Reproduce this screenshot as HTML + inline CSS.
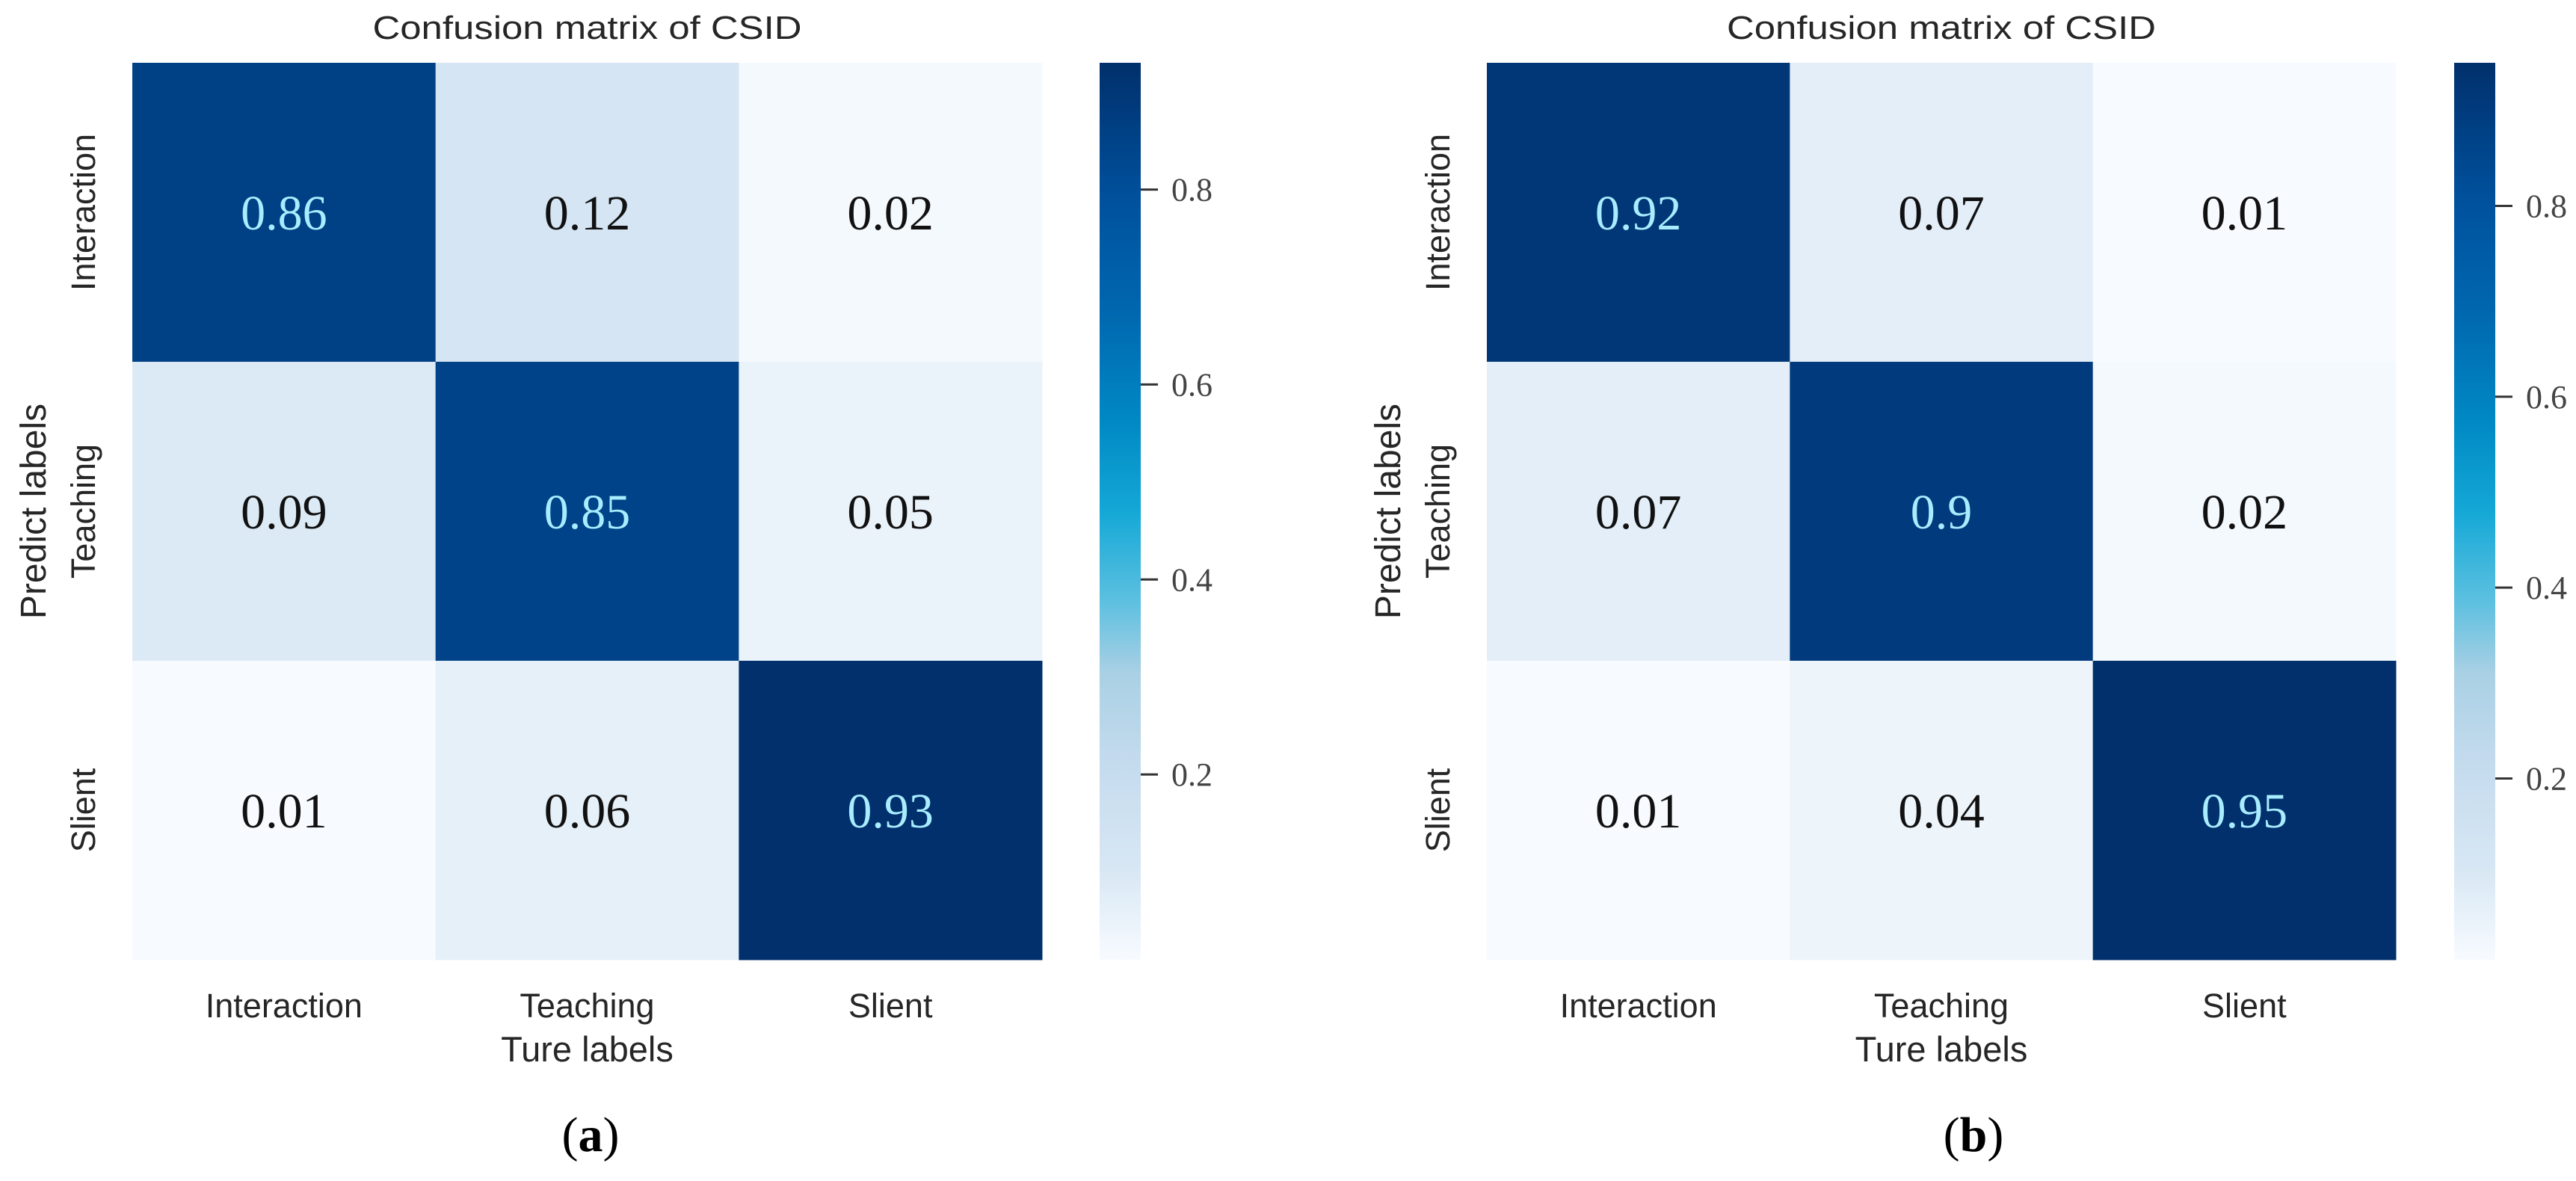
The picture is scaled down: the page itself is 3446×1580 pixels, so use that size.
<!DOCTYPE html>
<html><head><meta charset="utf-8"><style>
html,body{margin:0;padding:0;background:#fff;}
svg{display:block;}
</style></head><body>
<svg id="fig" width="3446" height="1580" viewBox="0 0 3446 1580" xmlns="http://www.w3.org/2000/svg">
<defs>
<linearGradient id="cbgrad" x1="0" y1="1" x2="0" y2="0">
<stop offset="0" stop-color="#f7fbff"/>
<stop offset="0.10" stop-color="#d8e7f4"/>
<stop offset="0.22" stop-color="#c4dbee"/>
<stop offset="0.32" stop-color="#a9d0e4"/>
<stop offset="0.40" stop-color="#5cc0e0"/>
<stop offset="0.50" stop-color="#14a8d6"/>
<stop offset="0.60" stop-color="#0089c4"/>
<stop offset="0.72" stop-color="#0068b0"/>
<stop offset="0.85" stop-color="#00509c"/>
<stop offset="1" stop-color="#01306c"/>
</linearGradient>
</defs>
<g id="panels"></g>
</svg>
<script>
const classes = ["Interaction", "Teaching", "Slient"];
const matrixA = [[0.86, 0.12, 0.02], [0.09, 0.85, 0.05], [0.01, 0.06, 0.93]];
const matrixB = [[0.92, 0.07, 0.01], [0.07, 0.90, 0.02], [0.01, 0.04, 0.95]];
const labelsA = [["0.86","0.12","0.02"],["0.09","0.85","0.05"],["0.01","0.06","0.93"]];
const labelsB = [["0.92","0.07","0.01"],["0.07","0.9","0.02"],["0.01","0.04","0.95"]];
const cbTicks = [0.2, 0.4, 0.6, 0.8];
const cbTickLabels = ["0.2", "0.4", "0.6", "0.8"];
const titles = ["Confusion matrix of CSID", "Confusion matrix of CSID"];
const captions = ["a", "b"];

const NS = "http://www.w3.org/2000/svg";
const stops = [[0,[247,251,255]],[0.10,[216,231,244]],[0.22,[196,219,238]],[0.32,[169,208,228]],[0.40,[92,192,224]],[0.50,[20,168,214]],[0.60,[0,137,196]],[0.72,[0,104,176]],[0.85,[0,80,156]],[1,[1,48,108]]];
function cmap(t){
  t=Math.max(0,Math.min(1,t));
  for(let i=1;i<stops.length;i++){
    if(t<=stops[i][0]){
      const a=stops[i-1],b=stops[i];const f=(t-a[0])/(b[0]-a[0]);
      const c=a[1].map((v,k)=>Math.round(v+(b[1][k]-v)*f));
      return "rgb("+c.join(",")+")";
    }
  }
  return "rgb(1,48,108)";
}
function mk(tag, attrs, parent){
  const e=document.createElementNS(NS,tag);
  for(const k in attrs) e.setAttribute(k, attrs[k]);
  parent.appendChild(e); return e;
}
const root=document.getElementById("panels");
function drawPanel(ox, hmW, matrix, labels, title, caption, cbX, capX){
  const g=mk("g",{},root);
  
  
  const top=84, H=1200, n=classes.length;
  const cw=hmW/n, ch=H/n;
  const flat=matrix.flat();
  const vmin=Math.min(...flat), vmax=Math.max(...flat);
  const norm=v=>(v-vmin)/(vmax-vmin);
  const xs=i=>ox+i*cw, ys=j=>top+j*ch;
  for(let r=0;r<n;r++){for(let c=0;c<n;c++){
    const v=matrix[r][c];
    const rect=mk("rect",{x:xs(c),y:ys(r),width:cw+0.5,height:ch+0.5,fill:cmap(norm(v))},g);
    
    
    const t=mk("text",{x:xs(c)+cw/2,y:ys(r)+ch/2+23,"text-anchor":"middle","font-family":"Liberation Serif, serif","font-size":66,fill:norm(v)>0.5?"#a8ecff":"#111"},g);
    t.textContent=labels[r][c];
    
    
  }}
  const tt=mk("text",{x:ox+hmW/2,y:52,"text-anchor":"middle","font-family":"Liberation Sans, sans-serif","font-size":44,fill:"#262626",textLength:574,lengthAdjust:"spacingAndGlyphs"},g);
  tt.textContent=title;
  
  
  for(let c=0;c<n;c++){
    const t=mk("text",{x:xs(c)+cw/2,y:1361,"text-anchor":"middle","font-family":"Liberation Sans, sans-serif","font-size":45,fill:"#262626"},g);
    t.textContent=classes[c];
    
    
  }
  const xl=mk("text",{x:ox+hmW/2,y:1420,"text-anchor":"middle","font-family":"Liberation Sans, sans-serif","font-size":47,fill:"#262626"},g);
  xl.textContent="Ture labels";
  
  
  for(let r=0;r<n;r++){
    const cy=ys(r)+ch/2, cx=ox-50;
    const t=mk("text",{x:cx,y:cy,"text-anchor":"middle","font-family":"Liberation Sans, sans-serif","font-size":45,fill:"#262626",transform:`rotate(-90 ${cx} ${cy})`},g);
    t.textContent=classes[r];
    
    
  }
  const yx=ox-116, yy=top+H/2;
  const yl=mk("text",{x:yx,y:yy,"text-anchor":"middle","font-family":"Liberation Sans, sans-serif","font-size":48,fill:"#262626",transform:`rotate(-90 ${yx} ${yy})`},g);
  yl.textContent="Predict labels";
  
  
  const cb=mk("rect",{x:cbX,y:top,width:55,height:H,fill:"url(#cbgrad)"},g);
  
  
  const cy=v=>top+H-(v-vmin)/(vmax-vmin)*H;
  cbTicks.forEach((v,i)=>{
    const l=mk("line",{x1:cbX+55,x2:cbX+78,y1:cy(v),y2:cy(v),stroke:"#333","stroke-width":3},g);
    
    
    const t=mk("text",{x:cbX+96,y:cy(v)+15,"font-family":"Liberation Serif, serif","font-size":44,fill:"#444"},g);
    t.textContent=cbTickLabels[i];
    
    
  });
  const cap=mk("text",{x:capX,y:1540,"text-anchor":"middle","font-family":"Liberation Serif, serif","font-size":66,fill:"#000"},g);
  cap.innerHTML='(<tspan font-weight="bold">'+caption+'</tspan>)';
  
  
}
drawPanel(177, 1217, matrixA, labelsA, titles[0], captions[0], 1471, 790);
drawPanel(1989, 1216, matrixB, labelsB, titles[1], captions[1], 3283, 2640);
</script>
</body></html>
